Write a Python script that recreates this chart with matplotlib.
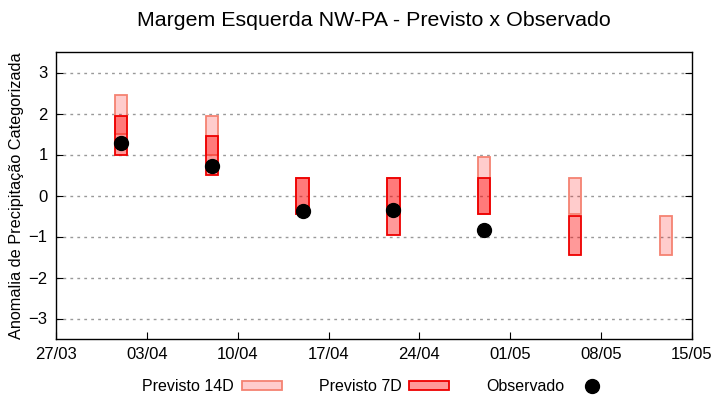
import numpy as np
import pandas as pd
import matplotlib
matplotlib.use('Agg')
import matplotlib.pyplot as plt
import matplotlib.dates as mdates
from matplotlib.patches import Rectangle
from matplotlib.lines import Line2D

plt.rcParams['font.family'] = ['Liberation Sans', 'DejaVu Sans']

# weekly forecast / observed data
dates = pd.to_datetime(['2024-04-01', '2024-04-08', '2024-04-15', '2024-04-22',
                        '2024-04-29', '2024-05-06', '2024-05-13'])
prev14_low = [1.5, 1.0, -0.45, -0.45, -0.45, -0.45, -1.45]
prev14_high = [2.45, 1.95, 0.43, 0.43, 0.94, 0.43, -0.5]
prev7_low = [1.0, 0.5, -0.45, -0.97, -0.45, -1.45, np.nan]
prev7_high = [1.95, 1.45, 0.43, 0.43, 0.43, -0.5, np.nan]
observado = [1.28, 0.71, -0.37, -0.35, -0.84, np.nan, np.nan]

fig = plt.figure(figsize=(7.2, 4), dpi=100)
ax = fig.add_axes([0.0778, 0.1525, 0.8833, 0.7175])

w = 0.95  # box width in days
xnum = mdates.date2num(dates)

# previsto 14 dias (lighter), drawn first
for x, lo, hi in zip(xnum, prev14_low, prev14_high):
    ax.add_patch(Rectangle((x - w/2, lo), w, hi - lo, facecolor=(1, 0, 0, 0.2),
                           edgecolor='#f58272', linewidth=1.3, zorder=2))
# previsto 7 dias
for x, lo, hi in zip(xnum, prev7_low, prev7_high):
    if np.isnan(lo):
        continue
    ax.add_patch(Rectangle((x - w/2, lo), w, hi - lo, facecolor=(1, 0, 0, 0.4),
                           edgecolor='#ee0000', linewidth=1.3, zorder=3))

ax.plot(xnum, observado, 'o', color='black', markersize=10, zorder=5)

ax.set_xlim(mdates.date2num(pd.Timestamp('2024-03-27')), mdates.date2num(pd.Timestamp('2024-05-15')))
ax.set_ylim(-3.5, 3.5)
ax.set_xticks(mdates.date2num(pd.date_range('2024-03-27', '2024-05-15', freq='7D')))
ax.xaxis.set_major_formatter(mdates.DateFormatter('%d/%m'))
ax.set_yticks([-3, -2, -1, 0, 1, 2, 3])

ax.grid(axis='y', color='#999999', linestyle=(0, (2, 3)), linewidth=1)
ax.set_axisbelow(True)
ax.tick_params(direction='in', length=5, labelsize=12, right=True)
ax.tick_params(axis='x', pad=6)
ax.tick_params(axis='y', pad=6)
for s in ax.spines.values():
    s.set_linewidth(1)

ax.set_ylabel('Anomalia de Precipitação Categorizada', fontsize=11.7)
ax.yaxis.set_label_coords(-0.05, 0.5)
fig.text(0.519, 0.948, 'Margem Esquerda NW-PA - Previsto x Observado',
         ha='center', va='center', fontsize=15.4)

handles = [Rectangle((0, 0), 1, 1, facecolor=(1, 0, 0, 0.2), edgecolor='#f58272', linewidth=1.3),
           Rectangle((0, 0), 1, 1, facecolor=(1, 0, 0, 0.4), edgecolor='#ee0000', linewidth=1.3),
           Line2D([], [], marker='o', color='black', linestyle='none', markersize=10)]
labels = ['Previsto 14D', 'Previsto 7D', 'Observado']
fig.legend(handles, labels, loc='center', bbox_to_anchor=(0.524, 0.033), ncol=3,
           frameon=False, markerfirst=False, fontsize=11.5, handlelength=2.5,
           handleheight=0.45, handletextpad=0.5, columnspacing=2.3)

fig.savefig('out.png', dpi=100)
